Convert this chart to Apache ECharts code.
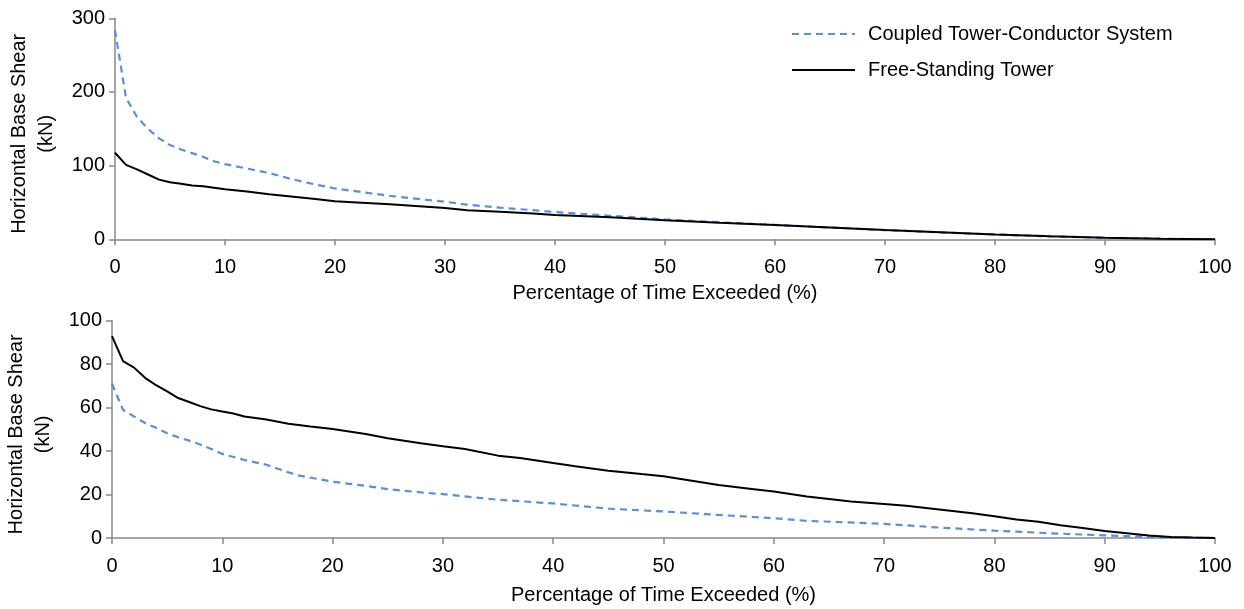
<!DOCTYPE html>
<html>
<head>
<meta charset="utf-8">
<script src="https://cdn.jsdelivr.net/npm/echarts@6/dist/echarts.min.js"></script>
<style>html,body{margin:0;padding:0;background:#fff;}#c{width:1244px;height:609px;}</style>
</head>
<body>
<div id="c"></div>
<script>
// ---- Data ----
var seriesNames = ['Coupled Tower-Conductor System', 'Free-Standing Tower'];
var xTicks = [0,10,20,30,40,50,60,70,80,90,100];

// Top panel
var topX = [0,1,2,3,4,5,6,7,8,9,10,12,14,16,18,20,22,25,28,30,32,35,38,40,45,50,55,60,65,70,75,80,85,90,95,100];
var topCoupled = [284,192,166,150,137,128,122,117,112,106,102,96,90,82,75,69,65,59,54,51,47,43,39.5,37,32,27,23,19.5,16,12.5,9.5,6.5,4,2,0.8,0];
var topFree = [117.5,101,95,88,81,77.5,75.5,73,72,70,68,65,61,58,55,51.5,50,47.5,44.5,42.5,39.5,37.5,35,33,30,26,22.5,19.5,16,12.5,9.5,6.5,4,2,0.8,0];

// Bottom panel
var botCoupledX = [0,1,2,3,4,5,6,7,8,9,10,12,14,16,17,20,23,25,28,30,35,40,45,50,55,60,63,70,75,80,85,90,95,100];
var botCoupled = [71,59,55.9,52.9,50.7,48.2,46.4,44.8,43,41,38.7,35.9,33.7,30.2,28.7,25.9,24,22.5,21,20.2,17.6,15.9,13.5,12.2,10.6,9.1,7.9,6.5,4.8,3.4,2.2,1.2,0.3,0];
var botFreeX = [0,1,2,3,4,5,6,7,8,9,10,11,12,14,16,18,20,23,25,28,30,32,35,37,40,42,45,48,50,52,55,58,60,63,65,67,70,72,75,78,80,82,84,86,88,90,92,94,96,98,100];
var botFree = [92.9,81.4,78.4,73.7,70.3,67.5,64.4,62.6,60.7,59.2,58.2,57.3,55.9,54.5,52.6,51.3,50.2,47.9,45.9,43.6,42.2,41,37.9,36.8,34.5,33,31,29.4,28.4,26.8,24.4,22.6,21.4,19.1,18,16.8,15.6,14.8,13.1,11.4,10,8.5,7.5,5.9,4.6,3.2,2.2,1.2,0.5,0.2,0];

function pairs(xs, ys) { return xs.map(function (x, i) { return [x, ys[i]]; }); }

var FONT = "'Liberation Sans', Arial, sans-serif";
var AXIS_COLOR = '#898989';
var BLUE = '#5591DC';

function xAxisCfg(gi, gap) {
  return {
    type: 'value', gridIndex: gi, min: 0, max: 100, interval: 10,
    name: 'Percentage of Time Exceeded (%)', nameLocation: 'middle', nameGap: gap,
    nameTextStyle: { fontSize: 20, color: '#000', fontFamily: FONT },
    axisLine: { show: true, lineStyle: { color: AXIS_COLOR, width: 1.5 } },
    axisTick: { show: true, length: 6, lineStyle: { color: AXIS_COLOR, width: 1.5 } },
    axisLabel: { fontSize: 20, color: '#000', fontFamily: FONT, margin: 18 },
    splitLine: { show: false }
  };
}
function yAxisCfg(gi, max, interval) {
  return {
    type: 'value', gridIndex: gi, min: 0, max: max, interval: interval,
    name: 'Horizontal Base Shear\n(kN)', nameLocation: 'middle', nameRotate: 90, nameGap: 55,
    nameTextStyle: { fontSize: 20, lineHeight: 27, color: '#000', fontFamily: FONT, align: 'center', padding: [0, 10, 0, 0] },
    axisLine: { show: true, lineStyle: { color: AXIS_COLOR, width: 1.5 } },
    axisTick: { show: true, length: 6, lineStyle: { color: AXIS_COLOR, width: 1.5 } },
    axisLabel: { fontSize: 20, color: '#000', fontFamily: FONT, margin: 10 },
    splitLine: { show: false }
  };
}

var chart = echarts.init(document.getElementById('c'), null, { renderer: 'canvas' });
chart.setOption({
  animation: false,
  backgroundColor: '#fff',
  textStyle: { fontFamily: FONT },
  legend: {
    data: seriesNames, orient: 'vertical', left: 786, top: 19,
    itemWidth: 63, itemHeight: 20, itemGap: 16,
    itemStyle: { opacity: 0 },
    textStyle: { fontSize: 20, color: '#000', fontFamily: FONT, padding: [0, 0, 0, 8] }
  },
  grid: [
    { left: 115, right: 29, top: 18.3, height: 221, containLabel: false, outerBoundsMode: 'none' },
    { left: 112, right: 29, top: 320.7, height: 217.3, containLabel: false, outerBoundsMode: 'none' }
  ],
  xAxis: [xAxisCfg(0, 44), xAxisCfg(1, 47)],
  yAxis: [yAxisCfg(0, 300, 100), yAxisCfg(1, 100, 20)],
  series: [
    { name: seriesNames[0], type: 'line', xAxisIndex: 0, yAxisIndex: 0, symbol: 'none', smooth: false,
      lineStyle: { color: BLUE, width: 2.2, type: [7, 5] }, itemStyle: { color: BLUE }, data: pairs(topX, topCoupled) },
    { name: seriesNames[1], type: 'line', xAxisIndex: 0, yAxisIndex: 0, symbol: 'none',
      lineStyle: { color: '#000', width: 2 }, itemStyle: { color: '#000' }, data: pairs(topX, topFree) },
    { name: seriesNames[0], type: 'line', xAxisIndex: 1, yAxisIndex: 1, symbol: 'none',
      lineStyle: { color: BLUE, width: 2.2, type: [7, 5] }, itemStyle: { color: BLUE }, data: pairs(botCoupledX, botCoupled) },
    { name: seriesNames[1], type: 'line', xAxisIndex: 1, yAxisIndex: 1, symbol: 'none',
      lineStyle: { color: '#000', width: 2 }, itemStyle: { color: '#000' }, data: pairs(botFreeX, botFree) }
  ]
});
</script>
</body>
</html>
